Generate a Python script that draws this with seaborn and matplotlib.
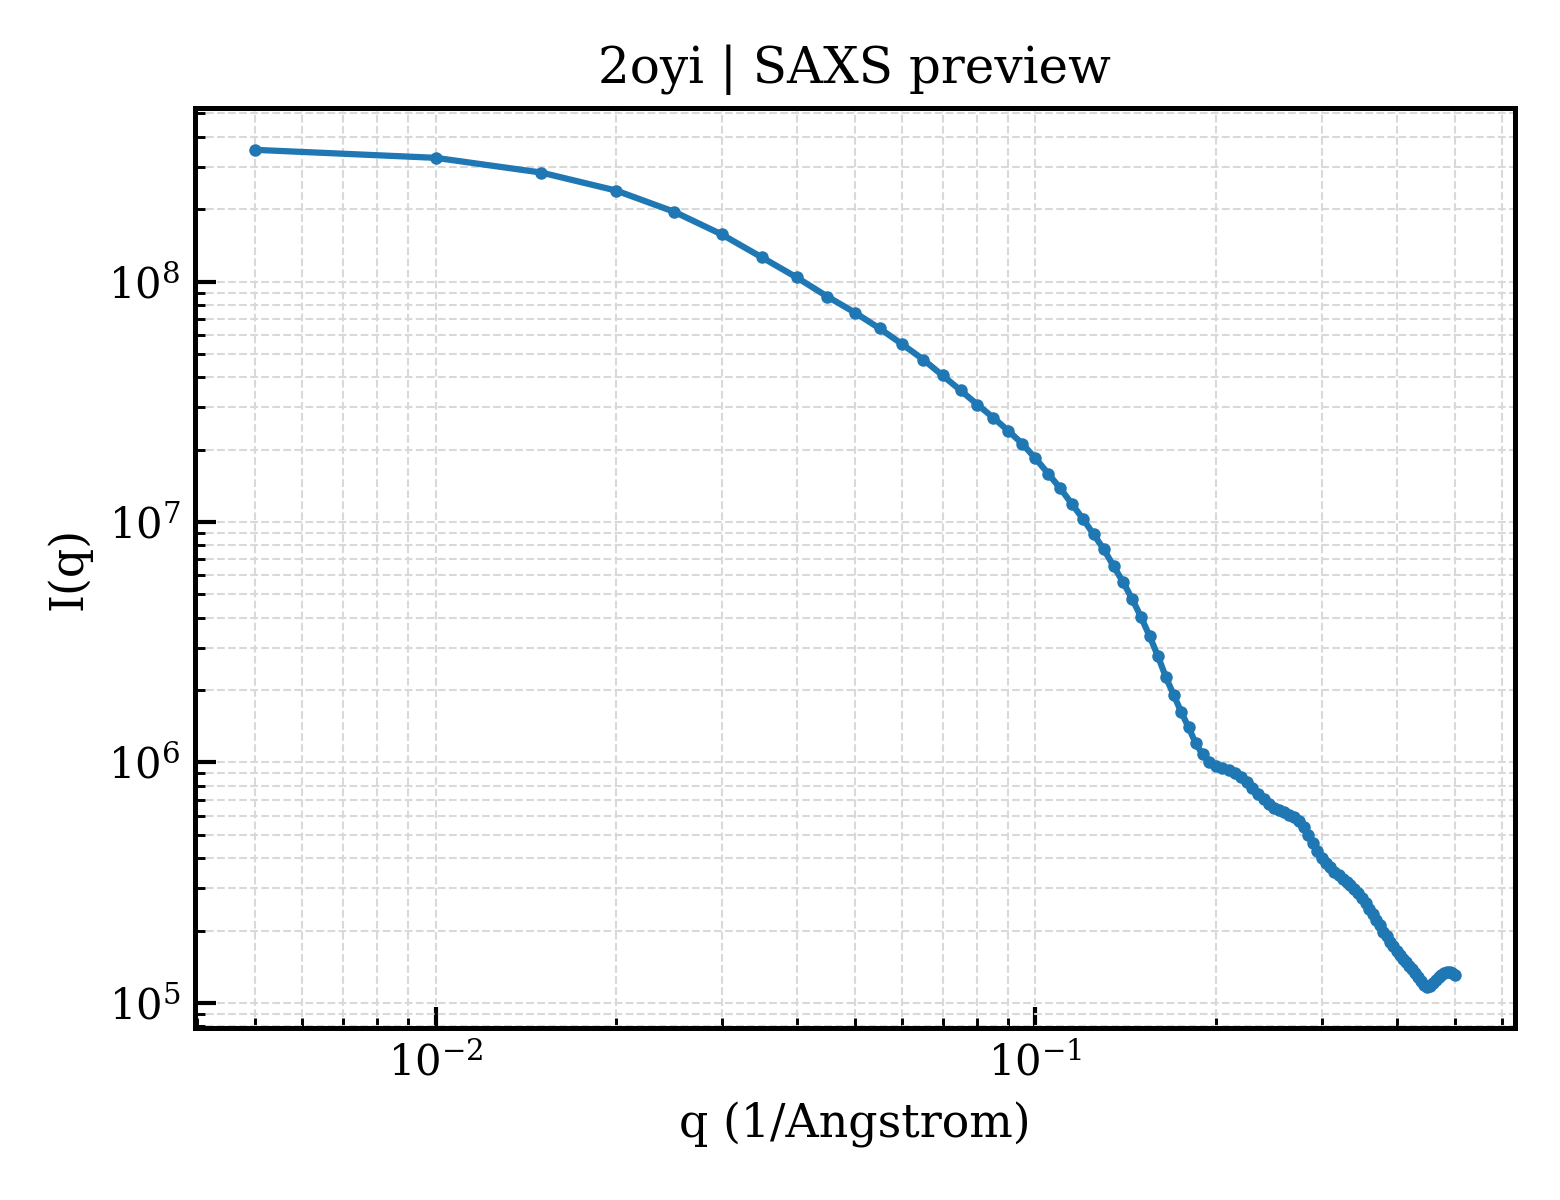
import numpy as np
import pandas as pd
import seaborn as sns
import matplotlib
matplotlib.use("Agg")
import matplotlib.pyplot as plt

# SAXS profile (q in 1/Angstrom)
q = [0.005, 0.010, 0.015, 0.020, 0.025, 0.030, 0.035, 0.040, 0.045, 0.050,
     0.055, 0.060, 0.065, 0.070, 0.075, 0.080, 0.085, 0.090, 0.095, 0.100,
     0.105, 0.110, 0.115, 0.120, 0.125, 0.130, 0.135, 0.140, 0.145, 0.150,
     0.155, 0.160, 0.165, 0.170, 0.175, 0.180, 0.185, 0.190, 0.195, 0.200,
     0.205, 0.210, 0.215, 0.220, 0.225, 0.230, 0.235, 0.240, 0.245, 0.250,
     0.255, 0.260, 0.265, 0.270, 0.275, 0.280, 0.285, 0.290, 0.295, 0.300,
     0.305, 0.310, 0.315, 0.320, 0.325, 0.330, 0.335, 0.340, 0.345, 0.350,
     0.355, 0.360, 0.365, 0.370, 0.375, 0.380, 0.385, 0.390, 0.395, 0.400,
     0.405, 0.410, 0.415, 0.420, 0.425, 0.430, 0.435, 0.440, 0.445, 0.450,
     0.455, 0.460, 0.465, 0.470, 0.475, 0.480, 0.485, 0.490, 0.495, 0.500]

intensity = [3.53e8, 3.27e8, 2.84e8, 2.39e8, 1.95e8, 1.57e8, 1.26e8, 1.04e8, 8.66e7, 7.43e7,
             6.38e7, 5.48e7, 4.74e7, 4.07e7, 3.53e7, 3.08e7, 2.72e7, 2.40e7, 2.12e7, 1.84e7,
             1.59e7, 1.38e7, 1.19e7, 1.03e7, 8.89e6, 7.70e6, 6.55e6, 5.62e6, 4.78e6, 4.02e6,
             3.35e6, 2.77e6, 2.26e6, 1.91e6, 1.62e6, 1.40e6, 1.20e6, 1.08e6, 1.00e6, 9.66e5,
             9.48e5, 9.31e5, 9.04e5, 8.70e5, 8.29e5, 7.83e5, 7.39e5, 7.05e5, 6.72e5, 6.47e5,
             6.34e5, 6.22e5, 6.05e5, 5.93e5, 5.71e5, 5.39e5, 4.99e5, 4.62e5, 4.29e5, 4.00e5,
             3.82e5, 3.66e5, 3.52e5, 3.40e5, 3.28e5, 3.19e5, 3.09e5, 2.98e5, 2.86e5, 2.74e5,
             2.61e5, 2.47e5, 2.34e5, 2.22e5, 2.10e5, 1.98e5, 1.89e5, 1.80e5, 1.72e5, 1.65e5,
             1.59e5, 1.53e5, 1.48e5, 1.43e5, 1.38e5, 1.33e5, 1.28e5, 1.23e5, 1.19e5, 1.17e5,
             1.18e5, 1.21e5, 1.25e5, 1.28e5, 1.31e5, 1.33e5, 1.35e5, 1.35e5, 1.33e5, 1.31e5]

title = "2oyi | SAXS preview"

sns.set_style("ticks", {"axes.edgecolor": "black", "text.color": "black",
                        "axes.labelcolor": "black", "xtick.color": "black",
                        "ytick.color": "black"})
plt.rcParams["font.family"] = ["DejaVu Serif"]
plt.rcParams["mathtext.fontset"] = "dejavuserif"

df = pd.DataFrame({"q": q, "I": intensity})

fig, ax = plt.subplots(figsize=(5.2, 4.0), dpi=300)
sns.lineplot(data=df, x="q", y="I", ax=ax, color="#1f77b4", linewidth=1.5,
             marker="o", markersize=3, markeredgewidth=0)

ax.set_xscale("log")
ax.set_yscale("log")
ax.margins(x=0.05, y=0.05)

ax.grid(True, which="both", linestyle="--", linewidth=0.5, color="#d9d9d9")
ax.tick_params(which="both", direction="in", top=False, right=False, labelsize=10,
               colors="black")
ax.tick_params(which="major", length=5, width=1.0)
ax.tick_params(which="minor", length=2.5, width=0.7)
for sp in ax.spines.values():
    sp.set_linewidth(1.2)
    sp.set_color("black")

ax.set_xlabel("q (1/Angstrom)", fontsize=11)
ax.set_ylabel("I(q)", fontsize=11)
ax.set_title(title, fontsize=12)

fig.subplots_adjust(left=0.125, right=0.971, top=0.91, bottom=0.143)
fig.savefig("out.png", dpi=300)
